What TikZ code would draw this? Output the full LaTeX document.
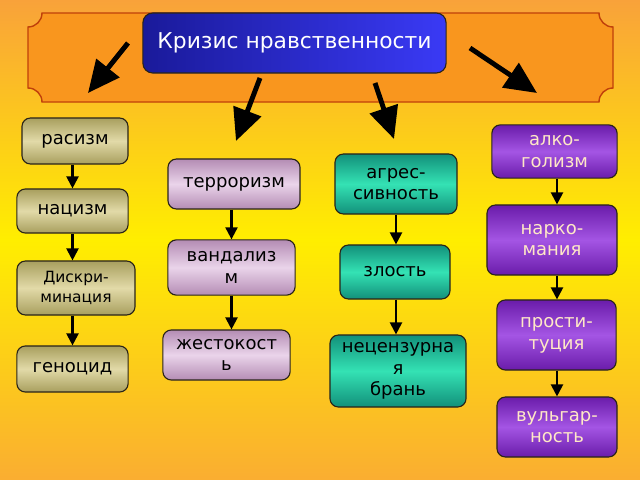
\documentclass[tikz,border=0pt]{standalone}
\usepackage{fontspec}
\setmainfont{DejaVu Sans}
\usetikzlibrary{arrows.meta,positioning}

\definecolor{bgorange}{HTML}{F9A23A}
\definecolor{bgyellow}{HTML}{FFEE00}
\definecolor{bannerfill}{HTML}{F9961E}
\definecolor{bannerline}{HTML}{C0400A}
\definecolor{boxline}{HTML}{2A2418}
\definecolor{titledark}{HTML}{1A1A9A}
\definecolor{titlelight}{HTML}{3A3AF5}
\definecolor{oliveedge}{HTML}{A89F5E}
\definecolor{olivemid}{HTML}{E2DAA8}
\definecolor{lilacedge}{HTML}{B48CB4}
\definecolor{lilacmid}{HTML}{EAD4EA}
\definecolor{tealedge}{HTML}{12907A}
\definecolor{tealmid}{HTML}{34E2B4}
\definecolor{purpedge}{HTML}{6A1CAA}
\definecolor{purpmid}{HTML}{A455E4}
\definecolor{creamtext}{HTML}{FFE8C6}

\begin{document}
\begin{tikzpicture}[x=0.025cm,y=-0.025cm,
  box/.style={draw=boxline,line width=0.8pt,rounded corners=6pt,align=center,
    inner sep=1pt,font=\fontsize{12.8}{15.5}\selectfont},
  olivebox/.style={box,top color=oliveedge,bottom color=oliveedge,middle color=olivemid},
  lilacbox/.style={box,top color=lilacedge,bottom color=lilacedge,middle color=lilacmid},
  tealbox/.style={box,top color=tealedge,bottom color=tealedge,middle color=tealmid},
  purpbox/.style={box,top color=purpedge,bottom color=purpedge,middle color=purpmid,text=creamtext},
  flow/.style={line width=1.5pt,-{Triangle[length=0.3cm,width=0.3cm]}},
  bigarrow/.style={line width=3.5pt,-{Triangle[length=0.8cm,width=0.72cm]}}]

% background
\shade[top color=bgorange,bottom color=bgorange!85!bgyellow,middle color=bgyellow]
  (0,0) rectangle (640,480);

% banner with notched corners
\draw[fill=bannerfill,draw=bannerline,line width=1pt]
  (42,13) -- (599,13) arc[start angle=180,end angle=90,radius=14]
  -- (613,88) arc[start angle=270,end angle=180,radius=14]
  -- (42,102) arc[start angle=0,end angle=-90,radius=14]
  -- (28,27) arc[start angle=90,end angle=0,radius=14] -- cycle;

% title
\node[draw=boxline,line width=0.8pt,rounded corners=7pt,left color=titledark,right color=titlelight,
  text=white,minimum width=7.58cm,minimum height=1.5cm,font=\fontsize{15.5}{18}\selectfont]
  (krizis) at (294.5,43) {Кризис нравственности};

% big arrows
\coordinate (a1s) at (128,43);  \coordinate (a1e) at (88,93);
\coordinate (a2s) at (260,78);  \coordinate (a2e) at (236,141);
\coordinate (a3s) at (375,83);  \coordinate (a3e) at (394,139);
\coordinate (a4s) at (470,48);  \coordinate (a4e) at (537,93);
\draw[bigarrow] (a1s) -- (a1e);
\draw[bigarrow] (a2s) -- (a2e);
\draw[bigarrow] (a3s) -- (a3e);
\draw[bigarrow] (a4s) -- (a4e);

% column 1
\node[olivebox,minimum width=2.65cm,minimum height=1.15cm] (rasizm) at (75,141) {расизм};
\node[olivebox,minimum width=2.78cm,minimum height=1.1cm] (nacizm) at (72.5,211) {нацизм};
\node[olivebox,minimum width=2.95cm,minimum height=1.35cm,font=\fontsize{11}{14}\selectfont]
  (diskrim) at (76,288) {Дискри-\\минация};
\node[olivebox,minimum width=2.78cm,minimum height=1.15cm] (genocid) at (72.5,369) {геноцид};

% column 2
\node[lilacbox,minimum width=3.3cm,minimum height=1.25cm] (terror) at (234,184) {терроризм};
\node[lilacbox,minimum width=3.18cm,minimum height=1.38cm] (vandal) at (231.5,267.5) {вандализ\\м};
\node[lilacbox,minimum width=3.18cm,minimum height=1.25cm] (zhest) at (226.5,355) {жестокост\\ь};

% column 3
\node[tealbox,minimum width=3.05cm,minimum height=1.5cm] (agress) at (396,184) {агрес-\\сивность};
\node[tealbox,minimum width=2.75cm,minimum height=1.35cm] (zlost) at (395,272) {злость};
\node[tealbox,minimum width=3.4cm,minimum height=1.8cm] (bran) at (398,371) {нецензурна\\я\\брань};

% column 4
\node[purpbox,minimum width=3.13cm,minimum height=1.33cm] (alko) at (554.5,151.5) {алко-\\голизм};
\node[purpbox,minimum width=3.25cm,minimum height=1.75cm] (narko) at (552,240) {нарко-\\мания};
\node[purpbox,minimum width=2.98cm,minimum height=1.75cm] (prost) at (556.5,335) {прости-\\туция};
\node[purpbox,minimum width=3cm,minimum height=1.5cm] (vulgar) at (557,427) {вульгар-\\ность};

% chains
\draw[flow] (rasizm.south -| nacizm) -- (nacizm.north);
\draw[flow] (nacizm.south) -- (diskrim.north -| nacizm);
\draw[flow] (diskrim.south -| genocid) -- (genocid.north);
\draw[flow] (terror.south -| vandal) -- (vandal.north);
\draw[flow] (vandal.south) -- (zhest.north -| vandal);
\draw[flow] (agress.south) -- (zlost.north -| agress);
\draw[flow] (zlost.south -| agress) -- (bran.north -| agress);
\draw[flow] (alko.south -| vulgar) -- (narko.north -| vulgar);
\draw[flow] (narko.south -| vulgar) -- (prost.north -| vulgar);
\draw[flow] (prost.south -| vulgar) -- (vulgar.north);
\end{tikzpicture}
\end{document}
